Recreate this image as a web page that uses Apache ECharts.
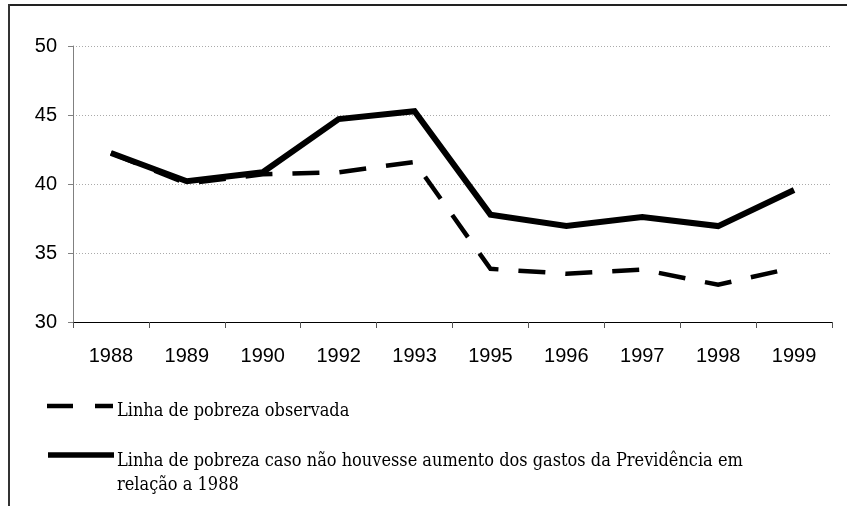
<!DOCTYPE html>
<html><head><meta charset="utf-8">
<script src="https://cdn.jsdelivr.net/npm/echarts@6/dist/echarts.min.js"></script>
<style>html,body{margin:0;padding:0;background:#fff}#c{width:847px;height:506px}</style>
</head><body><div id="c"></div>
<script>
var categories = ['1988','1989','1990','1992','1993','1995','1996','1997','1998','1999'];
var observada = [42.25, 40.03, 40.7, 40.85, 41.6, 33.85, 33.5, 33.8, 32.7, 33.95];
var semAumento = [42.25, 40.2, 40.85, 44.7, 45.27, 37.78, 36.95, 37.6, 36.95, 39.56];
var yTicks = [30, 35, 40, 45, 50];
var legendLabels = ['Linha de pobreza observada', 'Linha de pobreza caso não houvesse aumento dos gastos da Previdência em\nrelação a 1988'];

var chart = echarts.init(document.getElementById('c'), null, {renderer: 'canvas'});
var serif = '"DejaVu Serif Condensed", "DejaVu Serif", serif';
chart.setOption({
  animation: false,
  backgroundColor: '#fff',
  grid: {left: 73, right: 15, top: 46, bottom: 184, containLabel: false},
  xAxis: {
    type: 'category', data: categories, boundaryGap: true,
    axisLine: {lineStyle: {color: '#000', width: 1}},
    axisTick: {show: true, length: 6, lineStyle: {color: '#555'}},
    axisLabel: {color: '#000', fontFamily: '"Liberation Sans", Arial, sans-serif', fontSize: 20, margin: 24}
  },
  yAxis: {
    type: 'value', min: yTicks[0], max: yTicks[yTicks.length - 1], interval: 5,
    axisLine: {show: true, lineStyle: {color: '#808080', width: 1}},
    axisTick: {show: true, length: 5, lineStyle: {color: '#808080'}},
    axisLabel: {color: '#000', fontFamily: '"Liberation Sans", Arial, sans-serif', fontSize: 20, margin: 16},
    splitLine: {show: true, lineStyle: {color: '#aaa', type: [1, 2], width: 1}}
  },
  series: [
    {name: legendLabels[0], type: 'line', data: observada, symbol: 'none', z: 2,
     lineStyle: {color: '#000', width: 4.5, type: [27, 20], join: 'miter', cap: 'butt'}},
    {name: legendLabels[1], type: 'line', data: semAumento, symbol: 'none', z: 3,
     lineStyle: {color: '#000', width: 6, type: 'solid', join: 'miter'}}
  ],
  graphic: [
    {type: 'rect', shape: {x: 9, y: 4, width: 838, height: 2}, style: {fill: '#222'}, silent: true},
    {type: 'rect', shape: {x: 8, y: 4, width: 2, height: 502}, style: {fill: '#333'}, silent: true},
    {type: 'line', shape: {x1: 47, y1: 406, x2: 113, y2: 406}, style: {stroke: '#000', lineWidth: 4.5, lineDash: [26, 22]}},
    {type: 'text', x: 117, y: 411, style: {text: legendLabels[0], font: '18px ' + serif, fill: '#000', verticalAlign: 'middle'}},
    {type: 'line', shape: {x1: 48, y1: 455, x2: 114, y2: 455}, style: {stroke: '#000', lineWidth: 5.5}},
    {type: 'text', x: 117, y: 449, style: {text: legendLabels[1], font: '18px ' + serif, fill: '#000', verticalAlign: 'top', lineHeight: 24}}
  ]
});
</script></body></html>
